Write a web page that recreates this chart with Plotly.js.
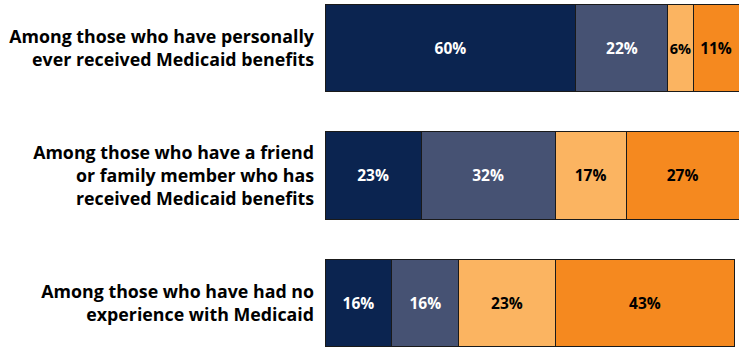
<!DOCTYPE html>
<html>
<head>
<meta charset="utf-8">
<script src="https://cdn.plot.ly/plotly-3.0.1.min.js"></script>
<style>html,body{margin:0;padding:0;background:#fff;}#chart{width:741px;height:348px;}</style>
</head>
<body>
<div id="chart"></div>
<script>
const categories = [
  "Among those who have personally<br>ever received Medicaid benefits",
  "Among those who have a friend<br>or family member who has<br>received Medicaid benefits",
  "Among those who have had no<br>experience with Medicaid"
];
const seriesNames = ["Response 1", "Response 2", "Response 3", "Response 4"];
const series1 = [60, 23, 16];
const series2 = [22, 32, 16];
const series3 = [6, 17, 23];
const series4 = [11, 27, 43];
const seriesValues = [series1, series2, series3, series4];
const colors = ["#0B2450", "#465273", "#FBB461", "#F5891F"];
const textColors = ["#FFFFFF", "#FFFFFF", "#000000", "#000000"];

const FONT = '"Open Sans", sans-serif';

const traces = seriesValues.map((vals, i) => ({
  type: "bar",
  orientation: "h",
  name: seriesNames[i],
  y: categories,
  x: vals,
  text: vals.map(v => v + "%"),
  textposition: "inside",
  insidetextanchor: "middle",
  textangle: 0,
  constraintext: "none",
  textfont: {family: FONT, size: vals.map(v => v < 10 ? 14.5 : 15.5), color: textColors[i], weight: 700},
  marker: {color: colors[i], line: {color: "#1a1a1a", width: 1}},
  width: 0.69,
  hoverinfo: "skip"
}));

const layout = {
  width: 741, height: 348,
  margin: {l: 325, r: 2, t: 0, b: 0, pad: 0},
  barmode: "stack",
  showlegend: false,
  paper_bgcolor: "#fff", plot_bgcolor: "#fff",
  font: {family: FONT, color: "#000"},
  xaxis: {range: [0, 99], showgrid: false, zeroline: false, showticklabels: false, showline: false, fixedrange: true},
  yaxis: {
    type: "category",
    categoryorder: "array", categoryarray: categories,
    range: [2.353, -0.3765], autorange: false,
    showgrid: false, zeroline: false, showline: false, ticks: "",
    ticklabelstandoff: 10,
    tickfont: {family: FONT, size: 17.8, color: "#000", weight: 700}
  }
};

Plotly.newPlot("chart", traces, layout, {displayModeBar: false, staticPlot: true});
</script>
</body>
</html>
